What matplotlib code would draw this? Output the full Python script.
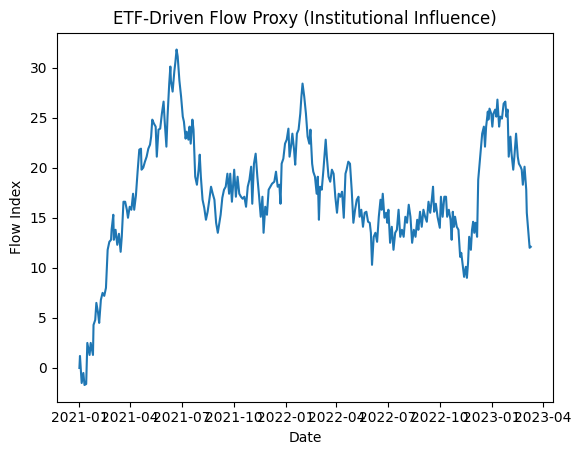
import matplotlib
matplotlib.use("Agg")
import matplotlib.pyplot as plt
import matplotlib.dates as mdates
import pandas as pd

# days since 2021-01-01 and the flow index
days = [
    0, 1, 4, 7, 9, 12, 14, 18, 20, 24, 25, 28, 30, 33, 35, 38, 41, 44, 47, 50,
    53, 56, 57, 60, 61, 64, 67, 70, 73, 75, 78, 81, 84, 86, 89, 92, 95, 97, 100, 103,
    106, 109, 110, 113, 116, 119, 122, 125, 127, 129, 132, 135, 137, 140, 143, 146, 149, 151, 154, 156,
    159, 161, 162, 165, 168, 170, 172, 174, 177, 180, 183, 185, 188, 190, 193, 195, 197, 200, 202, 205,
    208, 211, 213, 215, 218, 221, 224, 227, 230, 233, 236, 239, 242, 245, 248, 250, 253, 256, 259, 262,
    265, 267, 270, 274, 277, 280, 283, 286, 289, 292, 295, 298, 301, 304, 306, 309, 312, 315, 318, 321,
    324, 326, 329, 332, 335, 338, 341, 345, 348, 351, 354, 356, 358, 361, 364, 367, 370, 372, 375, 377,
    380, 382, 385, 388, 391, 393, 395, 398, 401, 404, 407, 409, 412, 414, 417, 420, 422, 424, 426, 429,
    432, 436, 438, 441, 444, 447, 450, 453, 456, 459, 462, 465, 468, 471, 473, 476, 479, 482, 485, 488,
    491, 494, 496, 499, 502, 505, 508, 511, 514, 516, 518, 521, 524, 527, 530, 533, 535, 537, 540, 543,
    545, 547, 550, 553, 556, 559, 562, 565, 568, 571, 574, 577, 580, 583, 586, 589, 592, 595, 598, 600,
    603, 606, 609, 612, 615, 618, 621, 624, 626, 628, 631, 634, 638, 640, 643, 646, 649, 651, 654, 657,
    659, 661, 663, 665, 668, 671, 674, 676, 679, 681, 684, 686, 688, 690, 693, 695, 697, 699, 701, 704,
    706, 708, 711, 713, 716, 718, 720, 723, 724, 726, 729, 731, 733, 736, 738, 740, 743, 745, 748, 751,
    754, 756, 758, 760, 763, 765, 768, 770, 773, 776, 778, 781, 783, 785, 788, 791, 792, 794, 797, 799,
]
flow = [
    0.0, 1.2, -1.5, -0.5, -1.7, -1.6, 2.5, 1.3, 2.5, 1.3, 4.3, 4.8, 6.5, 5.5, 4.5, 6.8, 7.5, 7.2, 8.0, 11.8,
    12.6, 12.8, 13.8, 15.3, 12.8, 13.8, 12.3, 13.4, 11.6, 13.1, 16.6, 16.6, 15.8, 15.0, 16.1, 15.8, 17.4, 15.8, 17.2, 19.6,
    21.8, 21.9, 19.8, 20.0, 20.6, 21.1, 21.9, 22.3, 23.1, 24.8, 24.4, 24.1, 21.1, 23.8, 23.9, 25.4, 26.6, 24.6, 22.1, 25.1,
    28.4, 30.1, 28.7, 27.6, 29.6, 30.6, 31.8, 31.1, 28.7, 27.1, 25.1, 24.6, 22.9, 23.6, 22.8, 24.1, 22.4, 24.8, 23.8, 19.1,
    18.3, 19.8, 21.3, 19.1, 16.8, 16.0, 14.8, 15.6, 16.8, 18.1, 17.4, 16.8, 14.5, 13.5, 14.6, 15.3, 17.0, 17.8, 18.1, 19.4,
    17.4, 19.4, 16.6, 19.8, 17.1, 19.1, 17.4, 17.1, 16.9, 17.1, 16.1, 18.1, 18.8, 20.1, 16.4, 20.4, 21.4, 19.1, 17.2, 15.1,
    17.1, 13.5, 16.1, 15.3, 17.8, 18.1, 18.4, 18.6, 19.6, 18.1, 18.3, 16.4, 20.4, 20.9, 22.4, 22.8, 23.9, 21.1, 22.3, 23.4,
    21.8, 20.3, 23.4, 23.8, 25.4, 27.1, 28.4, 27.1, 25.4, 23.1, 22.4, 23.8, 20.4, 19.6, 19.1, 17.4, 19.1, 14.8, 18.1, 17.8,
    19.8, 22.8, 21.1, 19.1, 18.6, 19.8, 19.4, 17.1, 15.5, 17.4, 17.1, 17.6, 15.0, 19.4, 19.8, 20.6, 20.4, 17.8, 14.5, 15.8,
    16.8, 17.1, 15.1, 15.8, 14.1, 15.5, 15.6, 14.6, 14.5, 13.5, 10.3, 13.1, 13.5, 12.6, 15.1, 16.8, 15.8, 17.4, 15.0, 15.5,
    14.5, 15.8, 12.5, 14.1, 11.8, 13.5, 13.8, 15.8, 13.1, 13.8, 13.1, 15.1, 14.5, 16.3, 15.1, 12.5, 13.8, 13.1, 14.8, 13.8,
    15.6, 14.1, 15.8, 15.1, 14.6, 16.6, 15.5, 16.9, 18.1, 15.6, 16.4, 15.1, 14.0, 17.1, 15.1, 17.1, 17.1, 15.1, 15.8, 14.8,
    12.8, 15.6, 14.1, 15.1, 14.1, 13.8, 11.1, 11.5, 10.1, 9.1, 10.1, 9.0, 10.5, 13.1, 11.8, 13.8, 14.6, 13.5, 14.5, 13.1,
    18.8, 20.1, 22.1, 23.4, 24.1, 22.1, 24.1, 25.6, 24.8, 25.9, 25.4, 24.1, 25.4, 25.8, 25.1, 26.8, 24.1, 25.1, 24.9, 26.4,
    26.6, 25.1, 25.8, 21.1, 23.1, 21.4, 19.8, 21.1, 23.4, 21.1, 20.4, 20.1, 19.8, 18.3, 20.1, 17.8, 15.5, 14.1, 12.0, 12.1,
]

dates = pd.Timestamp("2021-01-01") + pd.to_timedelta(days, unit="D")

fig, ax = plt.subplots(figsize=(5.8, 4.55), dpi=100)
fig.subplots_adjust(left=0.098, right=0.954, top=0.928, bottom=0.117)

ax.plot(dates, flow, color="#1f77b4", linewidth=1.5)

ax.xaxis.set_major_locator(mdates.MonthLocator(bymonth=[1, 4, 7, 10]))
ax.xaxis.set_major_formatter(mdates.DateFormatter("%Y-%m"))

ax.set_title("ETF-Driven Flow Proxy (Institutional Influence)")
ax.set_xlabel("Date")
ax.set_ylabel("Flow Index")

fig.savefig("out.png", dpi=100)
